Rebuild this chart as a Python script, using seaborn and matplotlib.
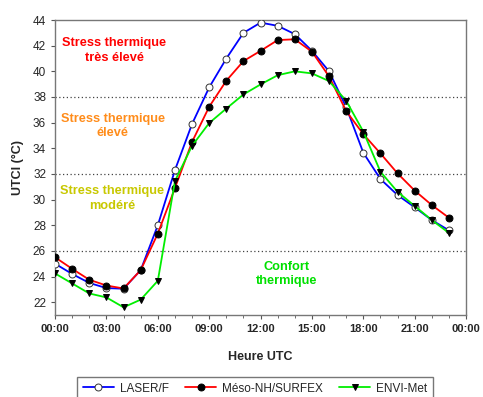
import matplotlib
matplotlib.use("Agg")
import matplotlib.pyplot as plt
from matplotlib.ticker import MultipleLocator, FixedLocator
import seaborn as sns
import pandas as pd

sns.set_style("ticks")
plt.rcParams["font.family"] = ["Liberation Sans", "DejaVu Sans"]

hours = list(range(24))
laser = [25.0, 24.2, 23.5, 23.1, 23.05, 24.5, 28.0, 32.3, 35.9, 38.75, 41.0, 43.0,
         43.8, 43.55, 42.9, 41.6, 40.0, 37.2, 33.65, 31.6, 30.35, 29.4, 28.4, 27.6]
mesonh = [25.5, 24.6, 23.75, 23.3, 23.07, 24.5, 27.35, 30.9, 34.5, 37.24, 39.27, 40.8,
          41.6, 42.44, 42.5, 41.53, 39.6, 36.9, 35.1, 33.6, 32.04, 30.7, 29.57, 28.58]
envimet = [24.24, 23.46, 22.68, 22.37, 21.6, 22.2, 23.67, 31.44, 34.2, 35.97, 37.1, 38.2,
           38.98, 39.7, 40.0, 39.84, 39.24, 37.7, 35.3, 32.17, 30.6, 29.5, 28.4, 27.4]
series_names = ["LASER/F", "Méso-NH/SURFEX", "ENVI-Met"]
thresholds = [26, 32, 38]
xtick_labels = ["00:00", "03:00", "06:00", "09:00", "12:00", "15:00", "18:00", "21:00", "00:00"]

fig = plt.figure(figsize=(4.83, 3.97), dpi=100)
ax = fig.add_axes([0.114, 0.2065, 0.851, 0.743])

for t in thresholds:
    ax.axhline(t, color="#444444", lw=0.9, ls=(0, (1, 2)), zorder=1)

styles = [
    (laser, "#0000ff", "o", "white", "#333333"),
    (mesonh, "#ff0000", "o", "black", "black"),
    (envimet, "#00ee00", "v", "black", "black"),
]
for name, (vals, col, mk, mfc, mec) in zip(series_names, styles):
    df = pd.DataFrame({"h": hours, "v": vals})
    sns.lineplot(data=df, x="h", y="v", ax=ax, color=col, lw=1.3, marker=mk,
                 markersize=5, markerfacecolor=mfc, markeredgecolor=mec,
                 markeredgewidth=0.7, label=name, zorder=3)

ax.set_xlim(0, 24)
ax.set_ylim(21, 44)
ax.xaxis.set_major_locator(FixedLocator(range(0, 25, 3)))
ax.set_xticklabels(xtick_labels, fontweight="bold", fontsize=8)
ax.xaxis.set_minor_locator(MultipleLocator(1))
ax.yaxis.set_major_locator(MultipleLocator(2))
ax.tick_params(axis="y", labelsize=8.5)
ax.tick_params(which="both", direction="out", length=3, color="#555555")
ax.tick_params(which="minor", length=2)
for s in ax.spines.values():
    s.set_color("#777777")
    s.set_linewidth(1.0)

ax.set_xlabel("Heure UTC", fontweight="bold", fontsize=9, labelpad=12)
ax.set_ylabel("UTCI (°C)", fontweight="bold", fontsize=9, labelpad=6)

ann = dict(ha="center", va="center", fontweight="bold", fontsize=9.2, linespacing=1.3)
ax.text(3.45, 41.6, "Stress thermique\ntrès élevé", color="#ff0000", **ann)
ax.text(3.38, 35.75, "Stress thermique\nélevé", color="#ff8c1a", **ann)
ax.text(3.33, 30.1, "Stress thermique\nmodéré", color="#c8c800", **ann)
ax.text(13.5, 24.2, "Confort\nthermique", color="#00e000", **ann)

handles, labels = ax.get_legend_handles_labels()
ax.legend_.remove()
fig.legend(handles, labels, loc="upper center", bbox_to_anchor=(0.528, 0.066),
           ncol=3, fontsize=8.5, frameon=True, fancybox=False, edgecolor="#555555",
           handlelength=2.6, columnspacing=1.4, handletextpad=0.5, borderpad=0.5)

fig.savefig("out.png", dpi=100)
